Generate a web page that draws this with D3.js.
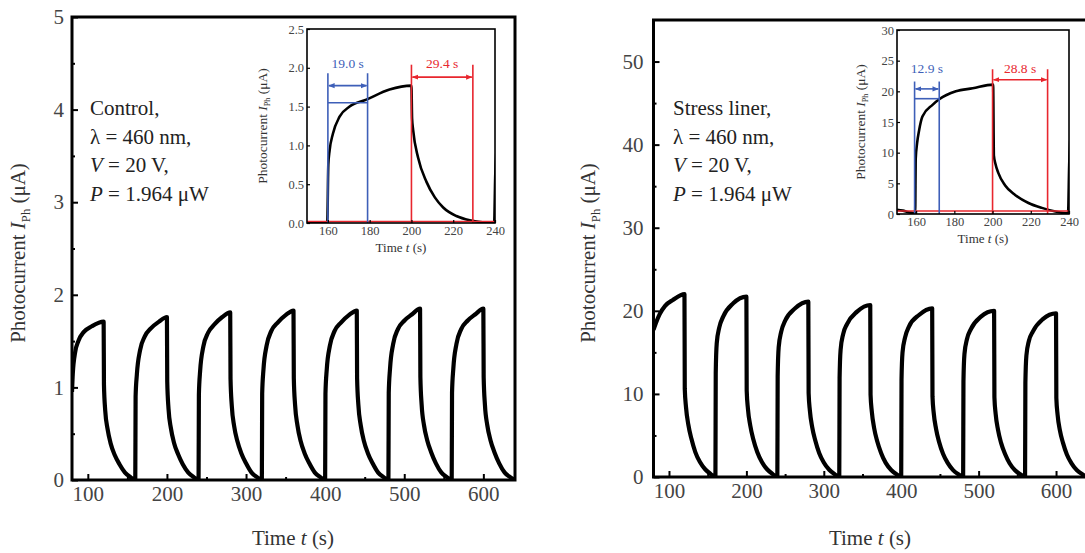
<!DOCTYPE html>
<html><head><meta charset="utf-8">
<script src="https://cdn.jsdelivr.net/npm/d3@7/dist/d3.min.js"></script>
<style>
body{margin:0;background:#fff;}
svg{display:block;font-family:"Liberation Serif","DejaVu Serif",serif;}
</style></head><body>
<svg id="c" width="1085" height="553"></svg>
<script>
// ---------- DATA ----------
const xTicksMain = [100, 200, 300, 400, 500, 600];
const xMinorMain = [150, 250, 350, 450, 550];
const yTicksLeft = [0, 1, 2, 3, 4, 5];
const yMinorLeft = [0.5, 1.5, 2.5, 3.5, 4.5];
const yTicksRight = [0, 10, 20, 30, 40, 50];
const yMinorRight = [5, 15, 25, 35, 45];
const xTicksInset = [160, 180, 200, 220, 240];
const yTicksInsetL = [0.0, 0.5, 1.0, 1.5, 2.0, 2.5];
const yTicksInsetR = [0, 5, 10, 15, 20, 25, 30];

// Control sample, full run: [time s, photocurrent uA]
const controlMain = [[80,0.95],[81,1.15],[84,1.38],[88,1.5],[95,1.6],[105,1.66],[120,1.71],
[120.4,1.03],[122,0.75],[125,0.55],[129,0.39],[134,0.27],[140,0.17],[147,0.08],[154,0.03],
[160,0],[160.4,0.90],[162,1.14],[166,1.40],[172,1.55],[180,1.64],[190,1.71],[200,1.76],
[200.4,1.06],[202,0.77],[205,0.56],[209,0.40],[214,0.28],[220,0.17],[227,0.08],[234,0.03],
[240,0],[240.4,0.92],[242,1.18],[246,1.44],[252,1.59],[260,1.68],[270,1.76],[280,1.81],
[280.4,1.09],[282,0.80],[285,0.58],[289,0.42],[294,0.29],[300,0.18],[307,0.08],[314,0.03],
[320,0],[320.4,0.93],[322,1.19],[326,1.45],[332,1.61],[340,1.70],[350,1.78],[360,1.83],
[360.4,1.10],[362,0.81],[365,0.59],[369,0.42],[374,0.29],[380,0.18],[387,0.08],[394,0.03],
[400,0],[400.4,0.93],[402,1.19],[406,1.45],[412,1.61],[420,1.70],[430,1.78],[440,1.83],
[440.4,1.10],[442,0.81],[445,0.59],[449,0.42],[454,0.29],[460,0.18],[467,0.08],[474,0.03],
[480,0],[480.4,0.94],[482,1.20],[486,1.47],[492,1.63],[500,1.72],[510,1.79],[520,1.85],
[520.4,1.11],[522,0.81],[525,0.59],[529,0.43],[534,0.30],[540,0.18],[547,0.08],[554,0.03],
[560,0],[560.4,0.94],[562,1.20],[566,1.47],[572,1.63],[580,1.72],[590,1.79],[600,1.85],
[600.4,1.11],[602,0.81],[605,0.59],[609,0.43],[614,0.30],[620,0.18],[627,0.08],[634,0.03],[640,0]];

// Stress liner sample, full run
const stressMain = [[80,17.7],[83,18.5],[88,19.6],[95,20.6],[105,21.3],[120,22.0],
[120.4,10.6],[122,8.4],[125,6.3],[129,4.6],[134,3.0],[140,1.8],[147,0.9],[154,0.35],
[160,0],[160.4,12.5],[161.7,16.1],[165,18.0],[170,19.3],[183,20.9],[200,21.7],
[200.4,10.4],[202,8.2],[205,6.2],[209,4.5],[214,3.0],[220,1.8],[227,0.9],[234,0.35],
[240,0],[240.4,12.1],[241.7,15.6],[245,17.5],[250,18.8],[263,20.3],[280,21.1],
[280.4,10.1],[282,8.0],[285,6.0],[289,4.4],[294,2.9],[300,1.75],[307,0.87],[314,0.34],
[320,0],[320.4,11.9],[321.7,15.3],[325,17.2],[330,18.4],[343,19.9],[360,20.7],
[360.4,9.9],[362,7.9],[365,5.9],[369,4.3],[374,2.9],[380,1.7],[387,0.85],[394,0.33],
[400,0],[400.4,11.7],[401.7,15.0],[405,16.8],[410,18.1],[423,19.5],[440,20.3],
[440.4,9.7],[442,7.7],[445,5.8],[449,4.2],[454,2.8],[460,1.7],[467,0.83],[474,0.32],
[480,0],[480.4,11.5],[481.7,14.8],[485,16.6],[490,17.8],[503,19.3],[520,20.0],
[520.4,9.6],[522,7.6],[525,5.7],[529,4.1],[534,2.8],[540,1.66],[547,0.82],[554,0.32],
[560,0],[560.4,11.3],[561.7,14.6],[565,16.4],[570,17.5],[583,19.0],[600,19.7],
[600.4,9.5],[602,7.5],[605,5.6],[609,4.1],[614,2.7],[620,1.64],[627,0.81],[634,0.32],[640,0]];

// Inset zooms on one cycle
const controlInset = [[150,0],[155,0],[159.7,0],[160.2,0.75],[160.8,0.93],[162.4,1.15],[165.6,1.37],
[170.4,1.5],[178.4,1.59],[189.5,1.72],[200,1.77],[200.3,1.35],[200.8,1.2],[203.2,0.84],[207.2,0.53],
[211.2,0.33],[215.2,0.2],[221.5,0.09],[227.9,0.035],[234,0.01],[239.6,0],[240.1,0.6],[240.6,0.9]];
const stressInset = [[150,0.7],[153,0.55],[156,0.3],[159,0.1],[159.5,0.05],[159.8,9.0],[160.5,11.5],
[161.6,13.7],[163.3,15.9],[168.6,17.8],[172.1,18.7],[180.8,20.0],[189.6,20.5],[200.3,21.1],[200.7,9.5],
[201.5,8.2],[203,6.7],[206.5,4.7],[211.8,3.1],[218.8,1.8],[225.8,1.0],[232.9,0.4],[239.5,0.1],[240.1,8],[240.6,12]];

// Time-constant annotations
const controlRise = {t0:160, t1:179, top:1.93, arrow:1.77, level:1.55, label:"19.0 s", labelY:2.06};
const controlFall = {t0:200, t1:229.4, top:2.04, arrow:1.88, label:"29.4 s", labelY:2.06, base:0.02};
const stressRise = {t0:159.2, t1:172.1, top:21.6, arrow:20.4, level:18.8, label:"12.9 s", labelY:23.8};
const stressFall = {t0:200, t1:228.8, top:23.6, arrow:21.9, label:"28.8 s", labelY:23.8, base:0.5};

const panelLabels = {
  left: ["Control,", "λ = 460 nm,", ["V", " = 20 V,"], ["P", " = 1.964 μW"]],
  right: ["Stress liner,", "λ = 460 nm,", ["V", " = 20 V,"], ["P", " = 1.964 μW"]]
};

// ---------- DRAW ----------
const svg = d3.select("#c");
const BLUE = "#3e5fb8", RED = "#e8262e";
const FONT = '"Liberation Serif","DejaVu Serif",serif';
const defs = svg.append("defs");
function marker(id, color){
  defs.append("marker").attr("id", id).attr("viewBox","0 0 10 10").attr("refX",9).attr("refY",5)
    .attr("markerWidth",4).attr("markerHeight",4).attr("orient","auto-start-reverse")
    .append("path").attr("d","M0,1 L10,5 L0,9 Z").attr("fill",color);
}
marker("ab", BLUE); marker("ar", RED);

function yTitle(g, x, y, size){
  const t = g.append("text").attr("transform", `translate(${x},${y}) rotate(-90)`)
    .attr("text-anchor","middle").attr("font-size", size).attr("fill","#333");
  t.append("tspan").text("Photocurrent ");
  t.append("tspan").attr("font-style","italic").text("I");
  t.append("tspan").attr("font-size", size*0.6).attr("dy", size*0.25).text("Ph");
  t.append("tspan").attr("dy", -size*0.25).text(" (μA)");
}
function xTitle(g, x, y, size){
  const t = g.append("text").attr("x",x).attr("y",y).attr("text-anchor","middle")
    .attr("font-size",size).attr("fill","#333");
  t.append("tspan").text("Time ");
  t.append("tspan").attr("font-style","italic").text("t");
  t.append("tspan").text(" (s)");
}

function mainPanel(opt){
  const g = svg.append("g");
  const x = d3.scaleLinear().domain([80,640]).range([opt.l, opt.r]);
  const y = d3.scaleLinear().domain(opt.yDom).range([opt.b, opt.t]);
  const clipId = "clip"+opt.id;
  defs.append("clipPath").attr("id",clipId).append("rect")
    .attr("x",opt.l).attr("y",opt.t).attr("width",opt.r-opt.l).attr("height",opt.b-opt.t);
  const line = d3.line().x(d=>x(d[0])).y(d=>y(d[1])).curve(d3.curveMonotoneX);
  g.append("path").datum(opt.data).attr("clip-path",`url(#${clipId})`)
    .attr("d", line).attr("fill","none").attr("stroke","#000").attr("stroke-width",4.2)
    .attr("stroke-linejoin","round");
  g.append("g").attr("transform",`translate(0,${opt.b})`)
    .call(d3.axisBottom(x).tickValues(xTicksMain).tickSize(-6).tickPadding(6).tickFormat(d3.format("d")));
  g.append("g").attr("transform",`translate(0,${opt.b})`)
    .call(d3.axisBottom(x).tickValues(xMinorMain).tickSize(-3).tickFormat(""));
  g.append("g").attr("transform",`translate(${opt.l},0)`)
    .call(d3.axisLeft(y).tickValues(opt.yTicks).tickSize(-6).tickPadding(opt.yPad).tickFormat(d3.format("d")));
  g.append("g").attr("transform",`translate(${opt.l},0)`)
    .call(d3.axisLeft(y).tickValues(opt.yMinor).tickSize(-3).tickFormat(""));
  g.selectAll(".domain").remove();
  g.selectAll(".tick line").attr("stroke","#000").attr("stroke-width",2);
  g.selectAll(".tick text").attr("font-size",21).attr("fill","#444").attr("font-family",FONT);
  g.append("rect").attr("x",opt.l).attr("y",opt.t).attr("width",opt.r-opt.l).attr("height",opt.b-opt.t)
    .attr("fill","none").attr("stroke","#000").attr("stroke-width",3);
  yTitle(g, opt.titleX, 253, 21);
  xTitle(g, opt.timeX, 545, 21);
  const lab = g.append("text").attr("font-size",21).attr("fill","#222");
  opt.labels.forEach((s,i)=>{
    const ts = lab.append("tspan").attr("x",opt.labX).attr("y",opt.labY + i*28.7);
    if (typeof s === "string") ts.text(s);
    else { ts.append("tspan").attr("font-style","italic").text(s[0]); ts.append("tspan").text(s[1]); }
  });
}

mainPanel({id:"L", l:72, r:515, t:17, b:480, yDom:[0,5], yTicks:yTicksLeft, yMinor:yMinorLeft, yPad:8,
  data:controlMain, titleX:25, timeX:293, labels:panelLabels.left, labX:90, labY:115});
mainPanel({id:"R", l:653.5, r:1087, t:20, b:477, yDom:[0,55], yTicks:yTicksRight, yMinor:yMinorRight, yPad:10,
  data:stressMain, titleX:595, timeX:870, labels:panelLabels.right, labX:673, labY:115});

function insetPanel(opt){
  const g = svg.append("g");
  const x = d3.scaleLinear().domain([150,240]).range([opt.l, opt.r]);
  const y = d3.scaleLinear().domain(opt.yDom).range([opt.b, opt.t]);
  g.append("rect").attr("x",opt.l).attr("y",opt.t).attr("width",opt.r-opt.l).attr("height",opt.b-opt.t).attr("fill","#fff");
  const clipId = "clip"+opt.id;
  defs.append("clipPath").attr("id",clipId).append("rect")
    .attr("x",opt.l).attr("y",opt.t).attr("width",opt.r-opt.l).attr("height",opt.b-opt.t);
  const line = d3.line().x(d=>x(d[0])).y(d=>y(d[1])).curve(d3.curveMonotoneX);
  g.append("path").datum(opt.data).attr("clip-path",`url(#${clipId})`)
    .attr("d", line).attr("fill","none").attr("stroke","#000").attr("stroke-width",2.6);
  const R = opt.rise, F = opt.fall;
  g.append("line").attr("x1",opt.l).attr("x2",opt.r).attr("y1",y(F.base)).attr("y2",y(F.base))
    .attr("stroke",RED).attr("stroke-width",1.6);
  [[R,BLUE,"ab"],[F,RED,"ar"]].forEach(([A,col,mk])=>{
    [A.t0,A.t1].forEach(t=>g.append("line").attr("x1",x(t)).attr("x2",x(t)).attr("y1",y(0)).attr("y2",y(A.top))
      .attr("stroke",col).attr("stroke-width",1.6));
    g.append("line").attr("x1",x(A.t0)+1).attr("x2",x(A.t1)-1).attr("y1",y(A.arrow)).attr("y2",y(A.arrow))
      .attr("stroke",col).attr("stroke-width",1.6).attr("marker-start",`url(#${mk})`).attr("marker-end",`url(#${mk})`);
    if (A.level!==undefined) g.append("line").attr("x1",x(A.t0)).attr("x2",x(A.t1)).attr("y1",y(A.level)).attr("y2",y(A.level))
      .attr("stroke",col).attr("stroke-width",1.6);
    g.append("text").attr("x",(x(A.t0)+x(A.t1))/2).attr("y",y(A.labelY)+4.5).attr("text-anchor","middle")
      .attr("font-size",13.5).attr("fill",col).text(A.label);
  });
  g.append("g").attr("transform",`translate(0,${opt.b})`)
    .call(d3.axisBottom(x).tickValues(xTicksInset).tickSize(-3).tickPadding(3).tickFormat(d3.format("d")));
  g.append("g").attr("transform",`translate(${opt.l},0)`)
    .call(d3.axisLeft(y).tickValues(opt.yTicks).tickSize(-3).tickPadding(3).tickFormat(opt.fmt));
  g.selectAll(".domain").remove();
  g.selectAll(".tick line").attr("stroke","#000").attr("stroke-width",1.2);
  g.selectAll(".tick text").attr("font-size",12.5).attr("fill","#444").attr("font-family",FONT);
  g.append("rect").attr("x",opt.l).attr("y",opt.t).attr("width",opt.r-opt.l).attr("height",opt.b-opt.t)
    .attr("fill","none").attr("stroke","#000").attr("stroke-width",1.6);
  yTitle(g, opt.titleX, opt.titleY, 13.5);
  xTitle(g, (opt.l+opt.r)/2, opt.b+29, 13);
}

insetPanel({id:"IL", l:307, r:495, t:29, b:223, yDom:[0,2.5], yTicks:yTicksInsetL, fmt:d3.format(".1f"),
  data:controlInset, rise:controlRise, fall:controlFall, titleX:267, titleY:126});
insetPanel({id:"IR", l:897, r:1069, t:30, b:214, yDom:[0,30], yTicks:yTicksInsetR, fmt:d3.format("d"),
  data:stressInset, rise:stressRise, fall:stressFall, titleX:865, titleY:122});
</script>
</body></html>
